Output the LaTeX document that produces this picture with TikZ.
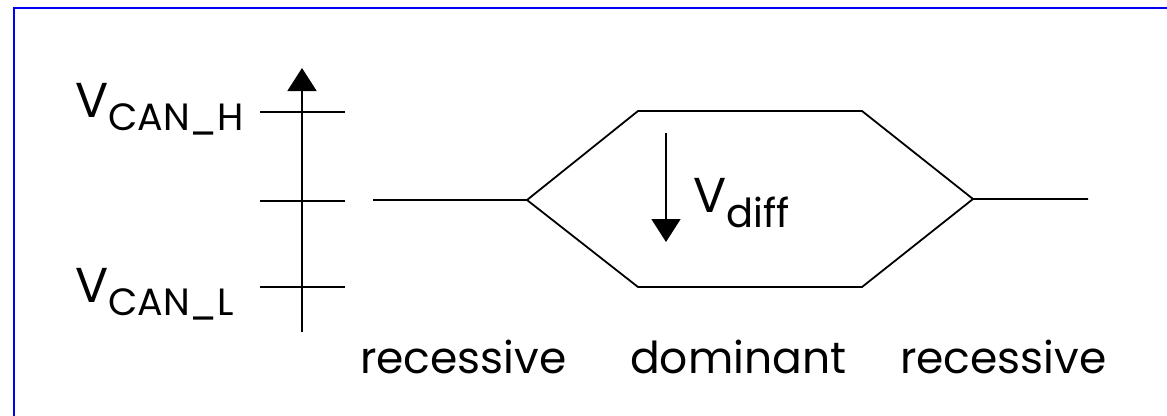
\documentclass[tikz,border=0pt]{standalone}
\usepackage{fontspec}
\setmainfont{Poppins}
\usetikzlibrary{arrows.meta}
\begin{document}
\begin{tikzpicture}[x=1pt,y=-1pt,
  wire/.style={line width=1.8pt,black},
  frame/.style={line width=2.6pt,color={rgb,255:red,0;green,0;blue,245}},
  lbl/.style={inner sep=0pt,anchor=base west},
  big/.style={font=\fontsize{44}{44}\selectfont},
  tip/.style={-{Triangle[width=29pt,length=23pt]}}]
\useasboundingbox (0,0) rectangle (1167,415);
% frame (top and left edges visible)
\draw[frame] (14,430) -- (14,8) -- (1180,8);
% axis
\coordinate (axb) at (302,332);
\coordinate (axt) at (302,68);
\draw[wire,tip] (axb) -- (axt);
\coordinate (h1) at (260,112); \coordinate (h2) at (345,112);
\coordinate (m1) at (260,201); \coordinate (m2) at (345,201);
\coordinate (l1) at (260,287); \coordinate (l2) at (345,287);
\draw[wire] (h1) -- (h2);
\draw[wire] (m1) -- (m2);
\draw[wire] (l1) -- (l2);
% labels
\node[lbl] (vh) at (75,117) {\fontsize{49}{49}\selectfont V\raisebox{-13pt}{\fontsize{38}{38}\selectfont CAN\_H}};
\node[lbl] (vl) at (75,302) {\fontsize{49}{49}\selectfont V\raisebox{-13pt}{\fontsize{38}{38}\selectfont CAN\_L}};
% waveform
\coordinate (a0) at (373,200);
\coordinate (a1) at (527,200);
\coordinate (a2) at (638,111);
\coordinate (a3) at (862,111);
\coordinate (a4) at (973,199);
\coordinate (a5) at (1088,199);
\coordinate (b2) at (638,287);
\coordinate (b3) at (862,287);
\draw[wire,line join=miter] (a0) -- (a1) -- (a2) -- (a3) -- (a4) -- (a5);
\draw[wire,line join=miter] (a1) -- (b2) -- (b3) -- (a4);
% Vdiff
\coordinate (d0) at (666,133);
\coordinate (d1) at (666,242);
\draw[wire,tip] (d0) -- (d1);
\node[lbl] (vd) at (693,212) {\fontsize{49}{49}\selectfont V\raisebox{-15pt}{\fontsize{40}{40}\selectfont diff}};
% state labels
\node[lbl,big] (r1) at (360,373) {recessive};
\node[lbl,big] (dm) at (630,373) {dominant};
\node[lbl,big] (r2) at (900,373) {recessive};
\end{tikzpicture}
\end{document}
